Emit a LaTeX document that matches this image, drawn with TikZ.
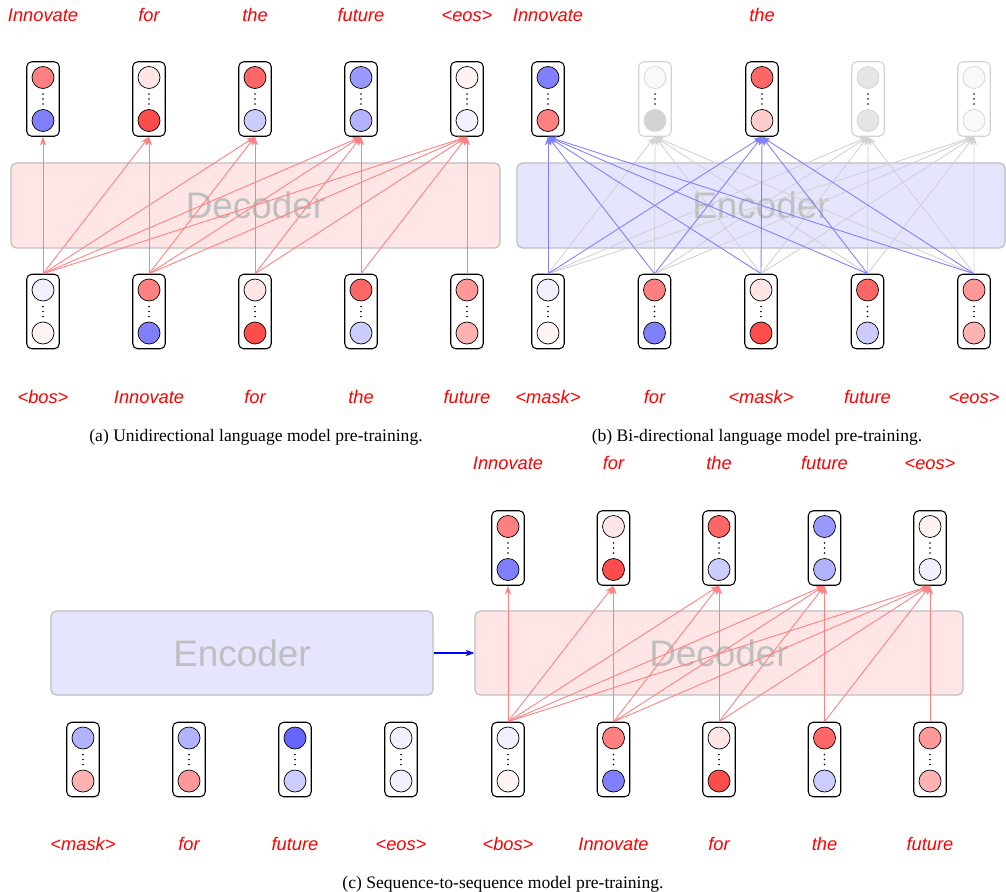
\documentclass[tikz,border=0pt]{standalone}
\usepackage{fontspec}
\setmainfont{Liberation Serif}
\setsansfont{Liberation Sans}
\usepackage{tikz}
\usetikzlibrary{
  arrows.meta,
  positioning,
}

% token vector: frame, two units, dots in between
\newcommand{\tokvec}[5][black]{%
  \node[vecbox, draw=#1] (#2) at #3 {};
  \node[unit, draw=#1, fill=#4] (#2u) at ([yshift=0.43cm]#2.center) {};
  \node[unit, draw=#1, fill=#5] (#2d) at ([yshift=-0.43cm]#2.center) {};
  \foreach \k in {-0.1,0,0.1}
    \fill ([yshift=\k cm]#2.center) circle (0.45pt);
}

\begin{document}
\begin{tikzpicture}[
  vecbox/.style={
    rectangle, rounded corners=2.8pt, minimum width=0.65cm,
    minimum height=1.49cm, line width=0.6pt, inner sep=0pt,
  },
  unit/.style={
    circle, minimum size=0.44cm, inner sep=0pt, line width=0.4pt,
  },
  block/.style={
    draw=gray!50, rounded corners=3pt, line width=0.7pt,
    minimum height=1.7cm, text=gray!50,
    font=\sffamily\fontsize{21}{24}\selectfont,
  },
  word/.style={
    font=\sffamily\itshape\fontsize{10.4}{12}\selectfont,
    text=red, anchor=base, inner sep=0pt,
  },
  capt/.style={
    font=\fontsize{10}{12}\selectfont, anchor=base, inner sep=0pt,
  },
  fwd/.style={
    draw=red!50, line width=0.5pt, -{Stealth[length=5pt,width=3.6pt]},
  },
  bidi/.style={
    draw=blue!50, line width=0.5pt, -{Stealth[length=5pt,width=3.6pt]},
  },
  faint/.style={
    draw=gray!35, line width=0.5pt, -{Stealth[length=5pt,width=3.6pt]},
  },
]
  \useasboundingbox (0,0) rectangle (20.12,-17.84);

  % (a) unidirectional
  \node[block, fill=red!10, minimum width=9.78cm] (adec) at (5.11,-4.11) {Decoder};
  \foreach \i/\up/\dn in {1/red!50/blue!50, 2/red!10/red!70, 3/red!60/blue!20,
                         4/blue!40/blue!30, 5/red!5/blue!6}
    \tokvec{at\i}{({2.12*\i-1.26},-1.98)}{\up}{\dn};
  \foreach \i/\up/\dn in {1/blue!6/red!5, 2/red!50/blue!50, 3/red!10/red!70,
                         4/red!60/blue!20, 5/red!40/red!30}
    \tokvec{ab\i}{({2.12*\i-1.26},-6.23)}{\up}{\dn};
  \foreach \i in {1,...,5}
    \foreach \j in {\i,...,5}
      \draw[fwd] (ab\i.north) -- (at\j.south);
  \foreach \i/\w in {1/Innovate, 2/for, 3/the, 4/future, 5/<eos>}
    \node[word] (law\i) at (at\i |- 0,-0.42) {\w};
  \foreach \i/\w in {1/<bos>, 2/Innovate, 3/for, 4/the, 5/future}
    \node[word] (lab\i) at (ab\i |- 0,-8.06) {\w};
  \node[capt] (capa) at (5.12,-8.82) {(a) Unidirectional language model pre-training.};

  % (b) bi-directional
  \node[block, fill=blue!10, minimum width=9.76cm] (benc) at (15.22,-4.11) {Encoder};
  \tokvec{bt1}{(10.96,-1.98)}{blue!50}{red!50}
  \tokvec[gray!35]{bt2}{(13.10,-1.98)}{gray!5}{gray!35}
  \tokvec{bt3}{(15.24,-1.98)}{red!60}{red!20}
  \tokvec[gray!35]{bt4}{(17.36,-1.98)}{gray!20}{gray!20}
  \tokvec[gray!35]{bt5}{(19.48,-1.98)}{gray!5}{gray!5}
  \foreach \i/\up/\dn in {1/blue!6/red!5, 2/red!50/blue!50, 3/red!10/red!70,
                         4/red!60/blue!20, 5/red!40/red!30}
    \tokvec{bb\i}{({2.13*\i+8.83},-6.23)}{\up}{\dn};
  \foreach \i in {1,...,5}
    \foreach \j in {2,4,5}
      \draw[faint] (bb\i.north) -- (bt\j.south);
  \foreach \i in {1,...,5}
    \foreach \j in {1,3}
      \draw[bidi] (bb\i.north) -- (bt\j.south);
  \node[word] (lbw1) at (bt1 |- 0,-0.42) {Innovate};
  \node[word] (lbw3) at (bt3 |- 0,-0.42) {the};
  \foreach \i/\w in {1/<mask>, 2/for, 3/<mask>, 4/future, 5/<eos>}
    \node[word] (lbb\i) at (bb\i |- 0,-8.06) {\w};
  \node[capt] (capb) at (15.14,-8.82) {(b) Bi-directional language model pre-training.};

  % (c) sequence-to-sequence
  \node[block, fill=blue!10, minimum width=7.64cm, minimum height=1.68cm] (cenc) at (4.84,-13.06) {Encoder};
  \node[block, fill=red!10, minimum width=9.76cm, minimum height=1.68cm] (cdec) at (14.38,-13.06) {Decoder};
  \draw[-{Stealth[length=5pt,width=3.6pt]}, blue, line width=0.6pt] (cenc) -- (cdec);
  \foreach \i/\up/\dn in {1/blue!30/red!30, 2/blue!30/red!40, 3/blue!60/blue!20,
                         4/blue!6/blue!6}
    \tokvec{ce\i}{({2.12*\i-0.46},-15.19)}{\up}{\dn};
  \foreach \i/\up/\dn in {1/red!50/blue!50, 2/red!10/red!70, 3/red!60/blue!20,
                         4/blue!40/blue!30, 5/red!5/blue!6}
    \tokvec{ct\i}{({2.11*\i+8.05},-10.96)}{\up}{\dn};
  \foreach \i/\up/\dn in {1/blue!6/red!5, 2/red!50/blue!50, 3/red!10/red!70,
                         4/red!60/blue!20, 5/red!40/red!30}
    \tokvec{cd\i}{({2.11*\i+8.05},-15.19)}{\up}{\dn};
  \foreach \i in {1,...,5}
    \foreach \j in {\i,...,5}
      \draw[fwd] (cd\i.north) -- (ct\j.south);
  \foreach \i/\w in {1/Innovate, 2/for, 3/the, 4/future, 5/<eos>}
    \node[word] (lcw\i) at (ct\i |- 0,-9.38) {\w};
  \foreach \i/\w in {1/<mask>, 2/for, 3/future, 4/<eos>}
    \node[word] (lce\i) at (ce\i |- 0,-17.0) {\w};
  \foreach \i/\w in {1/<bos>, 2/Innovate, 3/for, 4/the, 5/future}
    \node[word] (lcd\i) at (cd\i |- 0,-17.0) {\w};
  \node[capt] (capc) at (10.06,-17.76) {(c) Sequence-to-sequence model pre-training.};
\end{tikzpicture}
\end{document}
